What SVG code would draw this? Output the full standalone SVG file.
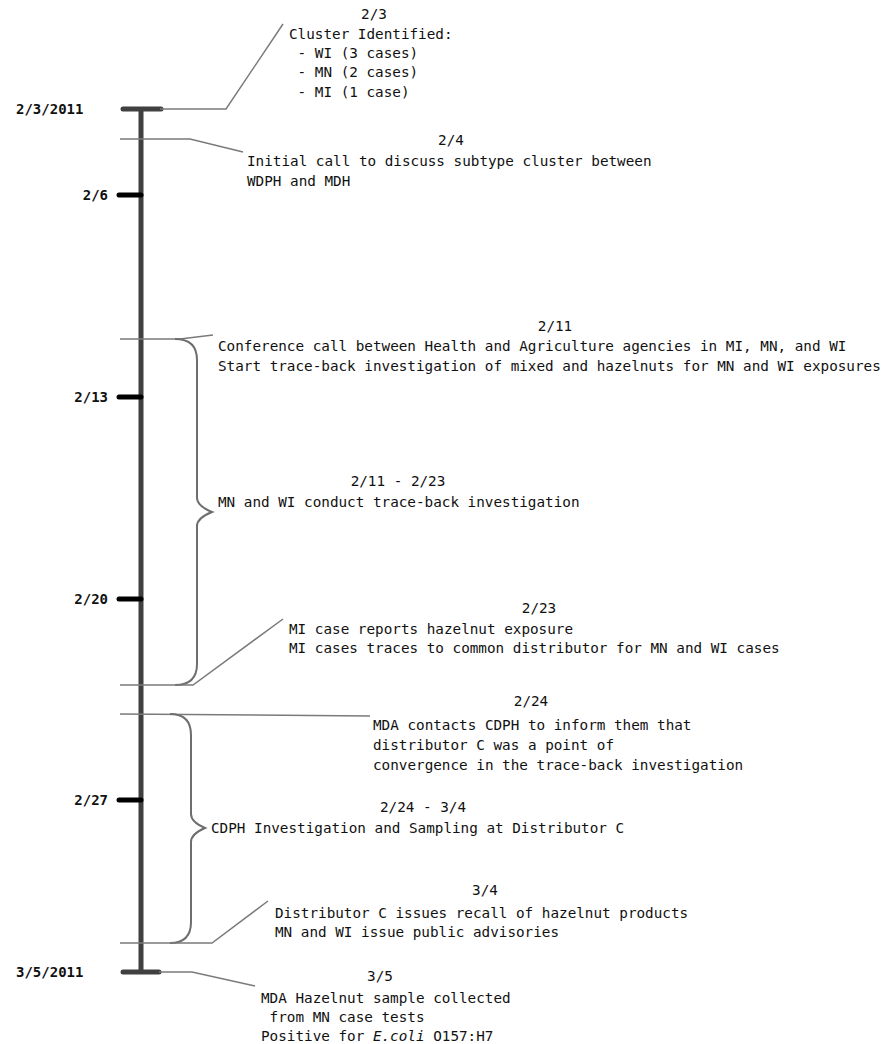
<svg xmlns="http://www.w3.org/2000/svg" width="886" height="1044" viewBox="0 0 886 1044">
  <style>
    text { font-family: "DejaVu Sans Mono", "Liberation Mono", monospace; font-size: 14.3px; fill: #111; }
    .date { font-weight: bold; font-size: 14px; }
    .hdr { text-anchor: middle; }
    .axis { stroke: #404040; stroke-width: 5; fill: none; }
    .cap { stroke: #404040; stroke-width: 5; stroke-linecap: round; }
    .tick { stroke: #000; stroke-width: 5; stroke-linecap: round; }
    .lead { stroke: #7a7a7a; stroke-width: 1.5; fill: none; }
    .brace { stroke: #6e6e6e; stroke-width: 2; fill: none; }
  </style>

  <!-- timeline axis with ticks and date labels -->
  <g id="axis">
    <line class="axis" x1="141" y1="109" x2="141" y2="972"/>
    <line class="cap" x1="123" y1="109" x2="161" y2="109"/>
    <line class="cap" x1="123" y1="972" x2="159" y2="972"/>
    <line class="tick" x1="119" y1="195" x2="141" y2="195"/>
    <line class="tick" x1="119" y1="397" x2="141" y2="397"/>
    <line class="tick" x1="119" y1="599" x2="141" y2="599"/>
    <line class="tick" x1="119" y1="800" x2="141" y2="800"/>
    <text class="date" x="16" y="114">2/3/2011</text>
    <text class="date" x="108" y="200" text-anchor="end">2/6</text>
    <text class="date" x="108" y="402" text-anchor="end">2/13</text>
    <text class="date" x="108" y="604" text-anchor="end">2/20</text>
    <text class="date" x="108" y="805" text-anchor="end">2/27</text>
    <text class="date" x="16" y="977">3/5/2011</text>
  </g>

  <!-- leader lines and braces -->
  <g id="connectors">
    <polyline class="lead" points="160,109 226,109 283,24"/>
    <polyline class="lead" points="120,139 190,139 243,152"/>
    <polyline class="lead" points="120,339 180,339 213,335"/>
    <path class="brace" d="M175,339 Q197,339 197,360 L197,498 Q197,506 212,512 Q197,518 197,526 L197,664 Q197,685 175,685"/>
    <polyline class="lead" points="120,685 193,685 283,619"/>
    <polyline class="lead" points="120,714 370,716"/>
    <path class="brace" d="M170,714 Q191,714 191,735 L191,814 Q191,822 205,828 Q191,834 191,842 L191,922 Q191,943 170,943"/>
    <polyline class="lead" points="120,943 212,943 268,901"/>
    <polyline class="lead" points="159,972 192,972 255,986"/>
  </g>

  <g id="event-2-3">
    <text class="hdr" x="374" y="19">2/3</text>
    <text x="289" y="39">Cluster Identified:</text>
    <text x="289" y="58" xml:space="preserve"> - WI (3 cases)</text>
    <text x="289" y="77" xml:space="preserve"> - MN (2 cases)</text>
    <text x="289" y="97" xml:space="preserve"> - MI (1 case)</text>
  </g>

  <g id="event-2-4">
    <text class="hdr" x="451" y="145">2/4</text>
    <text x="247" y="166">Initial call to discuss subtype cluster between</text>
    <text x="247" y="186">WDPH and MDH</text>
  </g>

  <g id="event-2-11">
    <text class="hdr" x="555" y="331">2/11</text>
    <text x="218" y="351">Conference call between Health and Agriculture agencies in MI, MN, and WI</text>
    <text x="218" y="371">Start trace-back investigation of mixed and hazelnuts for MN and WI exposures</text>
  </g>

  <g id="span-2-11-2-23">
    <text class="hdr" x="398" y="486">2/11 - 2/23</text>
    <text x="218" y="507">MN and WI conduct trace-back investigation</text>
  </g>

  <g id="event-2-23">
    <text class="hdr" x="539" y="613">2/23</text>
    <text x="289" y="634">MI case reports hazelnut exposure</text>
    <text x="289" y="653">MI cases traces to common distributor for MN and WI cases</text>
  </g>

  <g id="event-2-24">
    <text class="hdr" x="531" y="706">2/24</text>
    <text x="373" y="730">MDA contacts CDPH to inform them that</text>
    <text x="373" y="750">distributor C was a point of</text>
    <text x="373" y="770">convergence in the trace-back investigation</text>
  </g>

  <g id="span-2-24-3-4">
    <text class="hdr" x="423" y="812">2/24 - 3/4</text>
    <text x="211" y="833">CDPH Investigation and Sampling at Distributor C</text>
  </g>

  <g id="event-3-4">
    <text class="hdr" x="485" y="895">3/4</text>
    <text x="275" y="918">Distributor C issues recall of hazelnut products</text>
    <text x="275" y="937">MN and WI issue public advisories</text>
  </g>

  <g id="event-3-5">
    <text class="hdr" x="380" y="981">3/5</text>
    <text x="261" y="1003">MDA Hazelnut sample collected</text>
    <text x="261" y="1022" xml:space="preserve"> from MN case tests</text>
    <text x="261" y="1041">Positive for <tspan font-style="italic">E.coli</tspan> O157:H7</text>
  </g>
</svg>
